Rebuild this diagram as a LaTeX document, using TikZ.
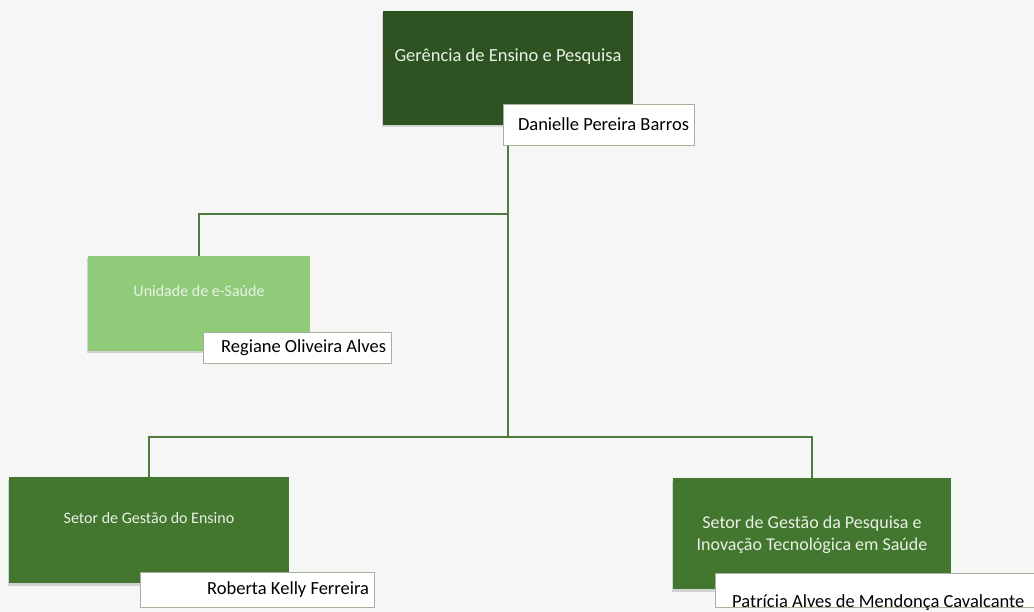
\documentclass[tikz,border=0pt]{standalone}
\usepackage{fontspec}
\setmainfont{Carlito}
\usetikzlibrary{positioning,shadows}

\definecolor{gepdark}{HTML}{2E5222}
\definecolor{geplight}{HTML}{8FCB79}
\definecolor{gepmid}{HTML}{43772F}
\definecolor{geplink}{HTML}{4F7B3F}
\definecolor{gepedge}{HTML}{A3B39A}
\definecolor{gepbg}{HTML}{F6F6F6}
\definecolor{geptext}{HTML}{E9F1E5}

\begin{document}
\begin{tikzpicture}[x=1pt,y=-1pt,
  unitbox/.style={rectangle,inner sep=0pt,
    drop shadow={shadow xshift=-1.5pt,shadow yshift=-2.5pt,opacity=.3}},
  unittext/.style={text=geptext,align=center,inner sep=0pt},
  namebox/.style={rectangle,draw=gepedge,fill=white,inner xsep=5pt,inner ysep=0pt,
    align=flush right,font=\fontsize{18.5}{22}\selectfont},
  link/.style={draw=geplink,line width=1.2pt}]
\useasboundingbox[fill=gepbg] (0,0) rectangle (1034,612);

% unit boxes
\node[unitbox,fill=gepdark,minimum width=250pt,minimum height=114pt,
  label={[unittext,font=\fontsize{18.5}{22}\selectfont,yshift=11pt]center:Gerência de Ensino e Pesquisa}]
  (ger) at (508,68) {};
\node[unitbox,fill=geplight,minimum width=222pt,minimum height=95pt,
  label={[unittext,font=\fontsize{16}{20}\selectfont,yshift=12pt]center:Unidade de e-Saúde}]
  (esaude) at (199,303.5) {};
\node[unitbox,fill=gepmid,minimum width=280pt,minimum height=106pt,
  label={[unittext,font=\fontsize{16}{20}\selectfont,yshift=12pt]center:Setor de Gestão do Ensino}]
  (ensino) at (149,530) {};
\node[unitbox,fill=gepmid,minimum width=278pt,minimum height=111pt,
  label={[unittext,font=\fontsize{18}{22}\selectfont,yshift=-1pt]center:Setor de Gestão da Pesquisa e\\Inovação Tecnológica em Saúde}]
  (pesquisa) at (812,533.5) {};

% connectors
\coordinate (j1) at (ger.south |- 0,214);
\coordinate (j2) at (ger.south |- 0,437);
\draw[link] (ger.south) -- (j2);
\draw[link] (j1) -| (esaude.north);
\draw[link] (j2) -| (ensino.north);
\draw[link] (j2) -| (pesquisa.north);

% name boxes
\node[namebox,minimum width=191pt,minimum height=41pt,text width=181pt] (danielle) at (598.5,124.5) {Danielle Pereira Barros};
\node[namebox,minimum width=188pt,minimum height=31pt,text width=178pt] (regiane) at (297,347.5) {Regiane Oliveira Alves};
\node[namebox,minimum width=234pt,minimum height=35pt,text width=224pt] (roberta) at (257,589.5) {Roberta Kelly Ferreira};
\node[namebox,minimum width=330pt,minimum height=34pt] (patricia) at (880,590) {};
\node[anchor=base west,inner sep=0pt,font=\fontsize{18.5}{22}\selectfont] (patname) at (732,607) {Patrícia Alves de Mendonça Cavalcante};
\end{tikzpicture}
\end{document}
